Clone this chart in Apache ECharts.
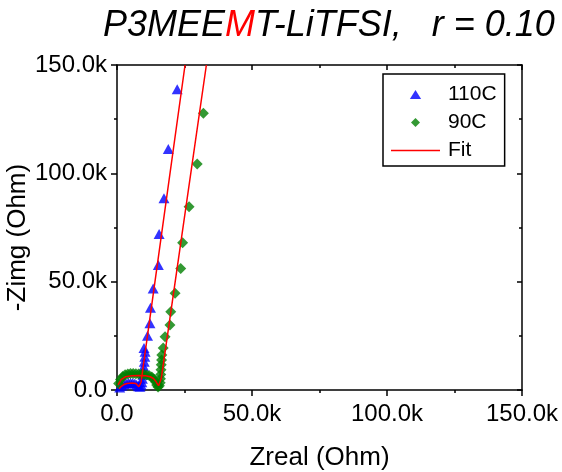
<!DOCTYPE html>
<html>
<head>
<meta charset="utf-8">
<script src="https://cdn.jsdelivr.net/npm/echarts@6/dist/echarts.min.js"></script>
<style>
  html, body { margin: 0; padding: 0; background: #fff; }
  #chart { width: 562px; height: 472px; }
</style>
</head>
<body>
<div id="chart"></div>
<script>
// Impedance spectra (Nyquist) of P3MEEMT-LiTFSI, values in kOhm: [Zreal, -Zimg]
const data110C = [
  [1.0, 1.2], [1.8, 2.0], [2.6, 2.6], [3.4, 3.0], [4.2, 3.2], [5.0, 3.3],
  [5.8, 3.2], [6.6, 3.0], [7.3, 2.4], [7.9, 1.7], [8.5, 1.5], [8.9, 2.4],
  [9.2, 3.6], [9.4, 5.2], [9.6, 7.0], [9.8, 8.8], [9.9, 10.8], [10.1, 13.0],
  [10.3, 15.4], [10.4, 17.6], [10.0, 19.4], [11.3, 25.0], [12.2, 30.8],
  [12.4, 38.0], [13.4, 46.9], [15.3, 57.7], [15.6, 72.0], [17.4, 88.5],
  [19.0, 111.2], [22.3, 138.8]
];
const data90C = [
  [0.6, 3.0], [1.3, 4.8], [2.1, 6.2], [3.0, 7.0], [4.0, 7.4], [5.0, 7.6],
  [6.0, 7.6], [7.0, 7.5], [8.0, 7.4], [9.0, 7.3], [10.0, 7.1], [11.0, 6.9],
  [12.0, 6.6], [12.9, 6.0], [13.6, 5.1], [14.2, 3.8], [14.7, 2.3], [15.2, 1.4],
  [15.7, 2.0], [16.0, 3.4], [16.1, 5.2], [16.2, 7.2], [16.3, 9.4], [16.4, 11.6],
  [16.5, 13.8], [16.6, 16.2], [17.1, 19.4], [17.8, 24.6], [19.6, 30.0],
  [19.9, 36.1], [21.5, 44.6], [23.6, 56.1], [24.3, 68.0], [26.7, 84.6],
  [29.7, 104.3], [32.0, 127.7]
];
// Equivalent-circuit fit curves
const fit110C = [
  [0.8, 0.6], [1.5, 1.6], [2.4, 2.4], [3.7, 3.0], [5.5, 3.2], [7.0, 3.0],
  [7.6, 2.3], [8.1, 1.5], [8.6, 1.8], [8.9, 3.6], [25.2, 150]
];
const fit90C = [
  [0.4, 2.4], [1.5, 4.8], [3.1, 6.1], [5.5, 6.6], [8.0, 6.7], [10.5, 6.6],
  [12.3, 6.1], [13.5, 5.3], [14.3, 4.2], [14.8, 3.1], [15.4, 2.0], [15.9, 2.6],
  [16.4, 5.4], [33.1, 150]
];
const axisMax = 150;
const axisStep = 50;

const FONT = "'Liberation Sans', Arial, sans-serif";
const fmt = v => (v === 0 ? '0.0' : v.toFixed(1) + 'k');

const chart = echarts.init(document.getElementById('chart'), null, { renderer: 'canvas' });

const mainAxis = {
  min: 0, max: axisMax, interval: axisStep,
  nameMoveOverlap: false,
  axisLine: { show: true, onZero: false, lineStyle: { color: '#000', width: 1.5 } },
  axisTick: { show: true, inside: false, length: 6, lineStyle: { color: '#000', width: 1.5 } },
  minorTick: { show: true, splitNumber: 2, length: 3, lineStyle: { color: '#000', width: 1.5 } },
  splitLine: { show: false },
  axisLabel: { show: true, color: '#000', fontFamily: FONT, fontSize: 24, formatter: fmt },
  nameTextStyle: { color: '#000', fontFamily: FONT, fontSize: 26 }
};
const mirrorAxis = {
  min: 0, max: axisMax, interval: axisStep,
  axisLine: { show: true, onZero: false, lineStyle: { color: '#000', width: 1.5 } },
  axisTick: { show: true, inside: true, length: 5, lineStyle: { color: '#000', width: 1.5 } },
  minorTick: { show: true, splitNumber: 2, length: 3, lineStyle: { color: '#000', width: 1.5 } },
  splitLine: { show: false },
  axisLabel: { show: false }
};

// legend glyphs: small triangle, small diamond, thin line
const triIcon = 'path://M5,0L10,8L0,8Z';
const diaIcon = 'path://M4,0L8,4L4,8L0,4Z';
const lineIcon = 'path://M0,0L49,0L49,1.5L0,1.5Z';

chart.setOption({
  animation: false,
  backgroundColor: '#fff',
  title: {
    left: 98, top: 3,
    text: '{a|P3MEE}{m|M}{a|T-LiTFSI,   r = 0.10}',
    textStyle: {
      rich: {
        a: { fontFamily: FONT, fontStyle: 'italic', fontWeight: 'normal', fontSize: 36, color: '#000' },
        m: { fontFamily: FONT, fontStyle: 'italic', fontWeight: 'normal', fontSize: 36, color: '#ff0000' }
      }
    }
  },
  grid: { left: 117, top: 65, right: 40, bottom: 82, containLabel: false, outerBoundsMode: 'none' },
  legend: {
    left: 383, top: 74, orient: 'vertical',
    borderColor: '#000', borderWidth: 1.5, borderRadius: 0,
    padding: [10, 8, 5, 8],
    itemWidth: 49, itemHeight: 9, itemGap: 7,
    symbolKeepAspect: true,
    textStyle: { color: '#000', fontFamily: FONT, fontSize: 21, padding: [0, 0, 0, 3] },
    data: [
      { name: '110C', icon: triIcon },
      { name: '90C', icon: diaIcon },
      { name: 'Fit', icon: lineIcon }
    ]
  },
  xAxis: [
    Object.assign({}, mainAxis, {
      type: 'value', position: 'bottom', name: 'Zreal (Ohm)',
      nameLocation: 'middle', nameGap: 55
    }, { axisLabel: Object.assign({}, mainAxis.axisLabel, { margin: 12 }) }),
    Object.assign({}, mirrorAxis, { type: 'value', position: 'top' })
  ],
  yAxis: [
    Object.assign({}, mainAxis, {
      type: 'value', position: 'left', name: '-Zimg (Ohm)',
      nameLocation: 'middle', nameGap: 86,
      nameTextStyle: Object.assign({}, mainAxis.nameTextStyle, { padding: [0, 20, 0, 0] })
    }, { axisLabel: Object.assign({}, mainAxis.axisLabel, { margin: 10 }) }),
    Object.assign({}, mirrorAxis, { type: 'value', position: 'right' })
  ],
  series: [
    {
      name: '110C', type: 'scatter', xAxisIndex: 0, yAxisIndex: 0,
      symbol: 'triangle', symbolSize: [11, 10],
      itemStyle: { color: '#0000ff' }, data: data110C, z: 2
    },
    {
      name: '90C', type: 'scatter', xAxisIndex: 0, yAxisIndex: 0,
      symbol: 'diamond', symbolSize: 11,
      itemStyle: { color: '#008000' }, data: data90C, z: 3
    },
    {
      name: 'Fit', type: 'line', xAxisIndex: 0, yAxisIndex: 0,
      showSymbol: false, symbol: 'none', clip: true,
      lineStyle: { color: '#ff0000', width: 1.5 }, itemStyle: { color: '#ff0000' },
      data: fit110C, z: 4
    },
    {
      name: 'Fit', type: 'line', xAxisIndex: 0, yAxisIndex: 0,
      showSymbol: false, symbol: 'none', clip: true,
      lineStyle: { color: '#ff0000', width: 1.5 }, itemStyle: { color: '#ff0000' },
      data: fit90C, z: 4
    }
  ]
});
</script>
</body>
</html>
